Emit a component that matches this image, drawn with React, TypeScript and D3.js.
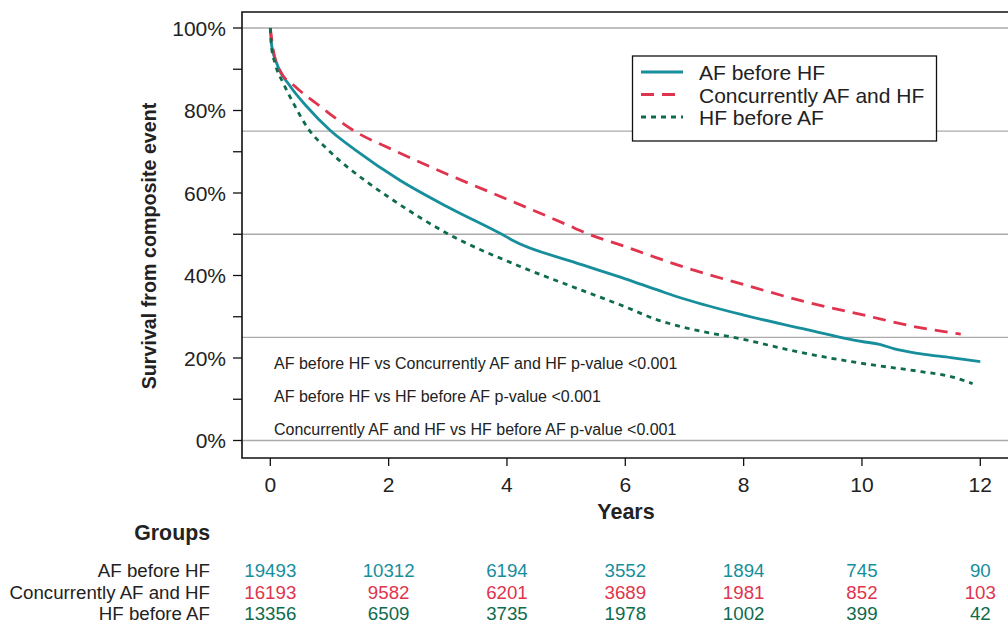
import React from 'react';
import * as d3 from 'd3';

const groups = ['AF before HF', 'Concurrently AF and HF', 'HF before AF'];
const colors = ['#178e9c', '#e0344e', '#0e6b4c'];
const dashes = ['none', '13 8', '5 5'];

// survival curves, [years, percent]
const afBeforeHf: [number, number][] = [
  [0, 100], [0.02, 96], [0.11, 91.4], [0.34, 85.8], [0.62, 80.9], [1.01, 75.2], [1.44, 70.4],
  [2.19, 63.1], [3, 56.6], [4, 49.3], [4.1, 48.5], [5.12, 43.3], [6, 39.2], [6.6, 36.2],
  [7, 34.3], [8, 30.4], [9, 27.1], [10, 24], [10.3, 23.3], [10.55, 22.2], [11, 21],
  [11.5, 20.1], [12, 19.1],
];
const concurrently: [number, number][] = [
  [0, 100], [0.05, 94.7], [0.16, 89.8], [0.42, 85.8], [0.78, 81.7], [1.4, 75.2], [2.08, 70.4],
  [3, 64.5], [4, 58.5], [5, 52.4], [5.35, 50.2], [6, 47], [6.47, 44.6], [7, 42], [8, 37.8],
  [9, 33.8], [10, 30.5], [11, 27.3], [11.67, 25.8],
];
const hfBeforeAf: [number, number][] = [
  [0, 100], [0.02, 95.5], [0.08, 91.4], [0.22, 86.6], [0.39, 81.8], [0.62, 76], [0.98, 70.4],
  [1.63, 62.7], [2, 59], [2.99, 50.2], [4.17, 42.5], [5.12, 37.2], [6, 32.4], [6.53, 29.3],
  [7, 27.4], [8, 24.5], [8.95, 21.4], [10, 18.7], [11, 16.7], [11.5, 15.5], [11.87, 13.8],
];
const curves = [afBeforeHf, concurrently, hfBeforeAf];

const xTicks = [0, 2, 4, 6, 8, 10, 12];
const yTicks = [0, 20, 40, 60, 80, 100];
const yMinor = [10, 30, 50, 70, 90];
const gridLines = [0, 25, 50, 75, 100];

const pValues = [
  'AF before HF vs Concurrently AF and HF p-value <0.001',
  'AF before HF vs HF before AF p-value <0.001',
  'Concurrently AF and HF vs HF before AF p-value <0.001',
];

// numbers at risk at each x tick
const atRisk = [
  [19493, 10312, 6194, 3552, 1894, 745, 90],
  [16193, 9582, 6201, 3689, 1981, 852, 103],
  [13356, 6509, 3735, 1978, 1002, 399, 42],
];

const font = '"Liberation Sans", Arial, sans-serif';
const textColor = '#222';

const App = () => {
  const width = 1008;
  const height = 626;
  const x = d3.scaleLinear().domain([0, 12]).range([270.3, 980.3]);
  const y = d3.scaleLinear().domain([0, 100]).range([440.5, 28]);
  const left = 242;
  const top = 12;
  const bottom = 458;

  const line = d3.line<[number, number]>()
    .x(d => x(d[0]))
    .y(d => y(d[1]))
    .curve(d3.curveMonotoneX);

  const rowY = [577, 598.5, 619.5];
  const legY = [72, 94.5, 117];

  return (
    <svg width={width} height={height} style={{ position: 'absolute', left: 0, top: 0, background: '#fff' }}
      fontFamily={font}>
      <rect width={width} height={height} fill="#fff" />
      {gridLines.map(g => (
        <line key={g} x1={left} x2={width} y1={y(g)} y2={y(g)} stroke="#aaa" strokeWidth={1.3} />
      ))}
      {/* frame */}
      <path d={`M${width + 2},${top}H${left}V${bottom}H${width + 2}`} fill="none" stroke="#111" strokeWidth={1.6} />
      {yTicks.map(t => (
        <g key={t}>
          <line x1={left - 9} x2={left} y1={y(t)} y2={y(t)} stroke="#111" strokeWidth={1.3} />
          <text x={226} y={y(t) + 7.5} textAnchor="end" fontSize={21} fill={textColor}>{t}%</text>
        </g>
      ))}
      {yMinor.map(t => (
        <line key={t} x1={left - 9} x2={left} y1={y(t)} y2={y(t)} stroke="#111" strokeWidth={1.3} />
      ))}
      {xTicks.map(t => (
        <g key={t}>
          <line x1={x(t)} x2={x(t)} y1={bottom} y2={bottom + 8} stroke="#111" strokeWidth={1.3} />
          <text x={x(t)} y={492} textAnchor="middle" fontSize={21} fill={textColor}>{t}</text>
        </g>
      ))}
      <text x={626} y={519} textAnchor="middle" fontSize={21.5} fontWeight="bold" fill={textColor}>Years</text>
      <text transform={`translate(156,${246}) rotate(-90)`} textAnchor="middle" fontSize={19.7}
        fontWeight="bold" fill={textColor}>Survival from composite event</text>

      {curves.map((c, i) => (
        <path key={i} d={line(c) ?? ''} fill="none" stroke={colors[i]} strokeWidth={2.8}
          strokeDasharray={dashes[i]} />
      ))}

      {pValues.map((p, i) => (
        <text key={i} x={274} y={369 + i * 32.8} fontSize={16} fill={textColor}>{p}</text>
      ))}

      {/* legend */}
      <rect x={632.5} y={56} width={304} height={85} fill="#fff" stroke="#111" strokeWidth={1.3} />
      {groups.map((g, i) => (
        <g key={g}>
          <line x1={641} x2={683} y1={legY[i]} y2={legY[i]} stroke={colors[i]} strokeWidth={2.8}
            strokeDasharray={dashes[i]} />
          <text x={699} y={legY[i] + 8} fontSize={21} fill={textColor}>{g}</text>
        </g>
      ))}

      {/* numbers at risk */}
      <text x={210} y={540} textAnchor="end" fontSize={21.3} fontWeight="bold" fill={textColor}>Groups</text>
      {groups.map((g, i) => (
        <g key={g}>
          <text x={210} y={rowY[i]} textAnchor="end" fontSize={18.7} fill={textColor}>{g}</text>
          {atRisk[i].map((n, j) => (
            <text key={j} x={x(xTicks[j])} y={rowY[i]} textAnchor="middle" fontSize={18.7} fill={colors[i]}>{n}</text>
          ))}
        </g>
      ))}
    </svg>
  );
};

export default App;
